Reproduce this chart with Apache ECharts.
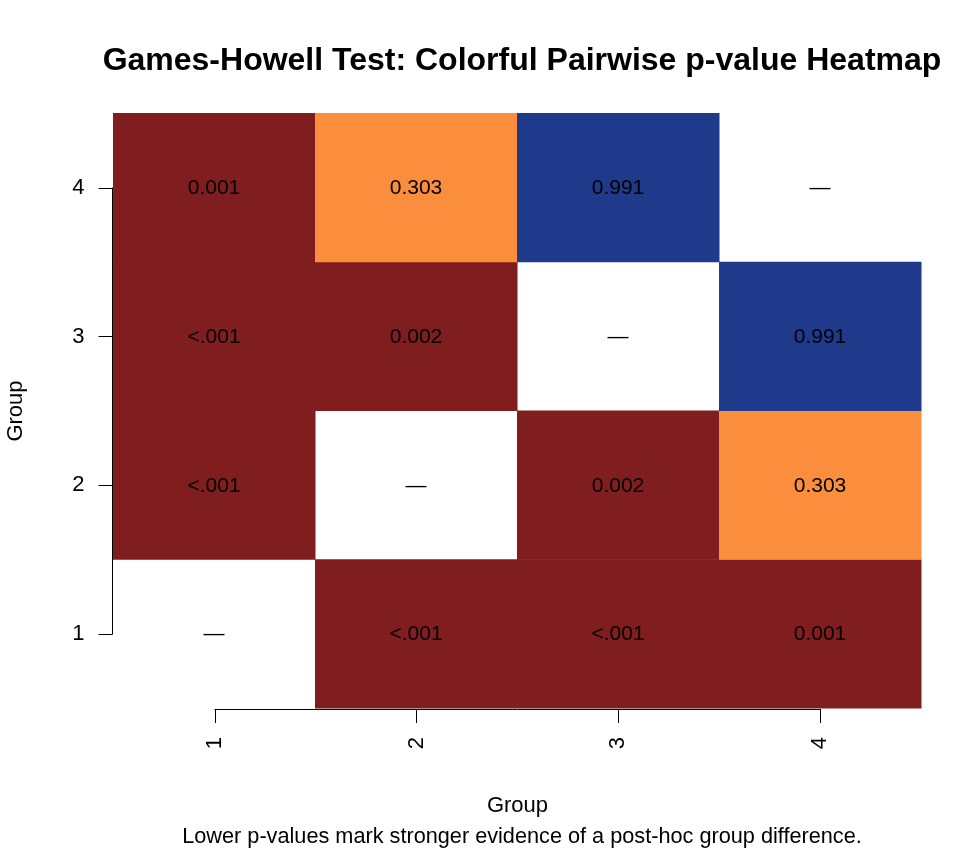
<!DOCTYPE html>
<html>
<head>
<meta charset="utf-8">
<script src="https://cdn.jsdelivr.net/npm/echarts@6/dist/echarts.min.js"></script>
<style>
  html, body { margin: 0; padding: 0; background: #fff; }
  #chart { width: 980px; height: 850px; }
</style>
</head>
<body>
<div id="chart"></div>
<script>
// groups compared
const groups = ['1', '2', '3', '4']
// pairwise Games-Howell results (upper triangle, mirrored in the plot)
const pairFrom = ['1', '1', '1', '2', '2', '3']
const pairTo = ['2', '3', '4', '3', '4', '4']
const pValues = [0.0005, 0.0005, 0.001, 0.002, 0.303, 0.991]
const pLabels = ['<.001', '<.001', '0.001', '0.002', '0.303', '0.991']
const diagLabel = '—'

const FONT = 'Liberation Sans, Arial, sans-serif'

// p-value -> fill colour
const colorFor = p => {
  if (p < 0.05) return '#801d1e'
  if (p < 0.5) return '#fb8e3c'
  return '#1f3a8a'
}

// cells: [x, y, label, fill]
const cells = []
groups.forEach(g => cells.push([g, g, diagLabel, '#ffffff']))
pairFrom.forEach((a, i) => {
  const b = pairTo[i]
  const fill = colorFor(pValues[i])
  cells.push([a, b, pLabels[i], fill])
  cells.push([b, a, pLabels[i], fill])
})

const tickText = { color: '#000', fontSize: 22, fontFamily: FONT }
const nameText = { color: '#000', fontSize: 22, fontFamily: FONT }

const option = {
  backgroundColor: '#fff',
  animation: false,
  title: [
    {
      text: 'Games-Howell Test: Colorful Pairwise p-value Heatmap',
      left: 517, top: 40, textAlign: 'center',
      textStyle: { fontSize: 32, fontWeight: 'bold', color: '#000', fontFamily: FONT }
    },
    {
      text: 'Lower p-values mark stronger evidence of a post-hoc group difference.',
      left: 517, top: 821, textAlign: 'center',
      textStyle: { fontSize: 21.7, fontWeight: 'normal', color: '#000', fontFamily: FONT }
    }
  ],
  grid: [
    { left: 113, right: 59, top: 113, bottom: 142, outerBoundsMode: 'none', containLabel: false },
    { left: 215, right: 160, top: 188, bottom: 216, outerBoundsMode: 'none', containLabel: false }
  ],
  xAxis: [
    { type: 'category', data: groups, gridIndex: 0, show: false },
    {
      type: 'value', gridIndex: 1, min: 1, max: 4, interval: 1,
      position: 'bottom', offset: 75, z: 10,
      axisLine: { show: true, lineStyle: { color: '#000', width: 1 } },
      axisTick: { show: true, length: 14, lineStyle: { color: '#000' } },
      axisLabel: Object.assign({ rotate: 90, margin: 28 }, tickText),
      splitLine: { show: false },
      name: 'Group', nameLocation: 'middle', nameGap: 86,
      nameTextStyle: nameText
    }
  ],
  yAxis: [
    { type: 'category', data: groups, gridIndex: 0, show: false },
    {
      type: 'value', gridIndex: 1, min: 1, max: 4, interval: 1,
      position: 'left', offset: 102.5, z: 10,
      axisLine: { show: true, lineStyle: { color: '#000', width: 1 } },
      axisTick: { show: true, length: 14, lineStyle: { color: '#000' } },
      axisLabel: Object.assign({ margin: 28 }, tickText),
      splitLine: { show: false },
      name: 'Group', nameLocation: 'middle', nameGap: 86, nameRotate: 90,
      nameTextStyle: nameText
    }
  ],
  series: [
    {
      type: 'custom',
      xAxisIndex: 0,
      yAxisIndex: 0,
      z: 1,
      data: cells,
      renderItem (params, api) {
        const c = api.coord([api.value(0), api.value(1)])
        const s = api.size([1, 1])
        const item = cells[params.dataIndex]
        return {
          type: 'group',
          children: [
            {
              type: 'rect',
              shape: { x: c[0] - s[0] / 2, y: c[1] - s[1] / 2, width: s[0] + 0.5, height: s[1] + 0.5 },
              style: { fill: item[3] }
            },
            {
              type: 'text',
              style: {
                text: item[2], x: c[0], y: c[1] + 1,
                align: 'center', verticalAlign: 'middle',
                font: '21px ' + FONT, fill: '#000'
              }
            }
          ]
        }
      }
    }
  ]
}

const chart = echarts.init(document.getElementById('chart'))
chart.setOption(option)
</script>
</body>
</html>
